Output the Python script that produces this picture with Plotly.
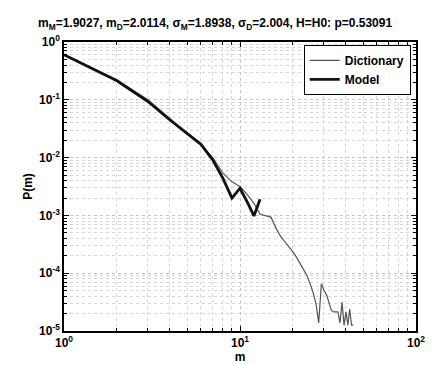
import plotly.graph_objects as go

# Data (m values and log10 P)
model_m = [1, 2, 3, 4, 5, 6, 7, 8, 9, 10, 11, 12, 13]
model_logp = [-0.22, -0.67, -1.03, -1.35, -1.58, -1.77, -2.04, -2.36, -2.70, -2.53, -2.77, -3.01, -2.72]

dict_m = list(range(1, 45))
dict_logp = [-0.22, -0.66, -1.00, -1.33, -1.57, -1.78, -2.00, -2.27, -2.42, -2.50,
             -2.64, -2.79, -2.98, -3.00, -3.03, -3.22, -3.36, -3.46, -3.54, -3.63,
             -3.73, -3.84, -3.92, -4.04, -4.18, -4.33, -4.52, -4.86, -4.18, -4.30,
             -4.37, -4.52, -4.64, -4.67, -4.67, -4.67, -4.86, -4.50, -4.90, -4.67,
             -4.90, -4.62, -4.90, -4.90]

model_p = [10 ** v for v in model_logp]
dict_p = [10 ** v for v in dict_logp]

x_tickvals = [1, 10, 100]
x_ticktext = ["<b>10<sup>0</sup></b>", "<b>10<sup>1</sup></b>", "<b>10<sup>2</sup></b>"]
y_tickvals = [1, 1e-1, 1e-2, 1e-3, 1e-4, 1e-5]
y_ticktext = ["<b>10<sup>0</sup></b>", "<b>10<sup>-1</sup></b>", "<b>10<sup>-2</sup></b>",
              "<b>10<sup>-3</sup></b>", "<b>10<sup>-4</sup></b>", "<b>10<sup>-5</sup></b>"]
minor_digits = [2, 3, 4, 5, 6, 7, 8, 9]
x_minor = [d * 10 ** e for e in range(0, 2) for d in minor_digits]
y_minor = [d * 10.0 ** e for e in range(-5, 0) for d in minor_digits]

title_text = ("<b>m<sub>M</sub>=1.9027, m<sub>D</sub>=2.0114, σ<sub>M</sub>=1.8938, "
              "σ<sub>D</sub>=2.004, H=H0: p=0.53091</b>")

FONT = "Liberation Sans, Arial"

fig = go.Figure()
fig.add_trace(go.Scatter(x=dict_m, y=dict_p, mode="lines", name="<b>Dictionary</b>",
                         line=dict(color="#555555", width=1.2)))
fig.add_trace(go.Scatter(x=model_m, y=model_p, mode="lines", name="<b>Model</b>",
                         line=dict(color="#111111", width=2.8)))

axis_common = dict(
    showline=True, linecolor="black", linewidth=1.5, mirror="allticks",
    ticks="inside", ticklen=5, tickcolor="black",
    showgrid=True, gridcolor="#c4c4c4", griddash="dot", gridwidth=1,
    zeroline=False,
    tickfont=dict(family=FONT, size=12, color="black"),
)

fig.update_xaxes(type="log", range=[0, 2], tickvals=x_tickvals, ticktext=x_ticktext,
                 title=dict(text="<b>m</b>", standoff=2,
                            font=dict(family=FONT, size=12, color="black")),
                 minor=dict(tickmode="array", tickvals=x_minor, showgrid=True,
                            gridcolor="#d6d6d6", griddash="dot",
                            ticks="inside", ticklen=3, tickcolor="black"),
                 **axis_common)
fig.update_yaxes(type="log", range=[-5, 0], tickvals=y_tickvals, ticktext=y_ticktext,
                 title=dict(text="<b>P(m)</b>", standoff=4,
                            font=dict(family=FONT, size=12, color="black")),
                 minor=dict(tickmode="array", tickvals=y_minor, showgrid=True,
                            gridcolor="#d6d6d6", griddash="dot",
                            ticks="inside", ticklen=3, tickcolor="black"),
                 **axis_common)

fig.update_layout(
    width=437, height=365,
    margin=dict(l=56, r=29, t=34, b=39),
    paper_bgcolor="white", plot_bgcolor="white",
    title=dict(text=title_text, x=30 / 437, xanchor="left", y=1 - 15 / 365, yanchor="middle",
               font=dict(family=FONT, size=12, color="black")),
    showlegend=True,
    legend=dict(x=0.985, y=0.99, xanchor="right", yanchor="top",
                bordercolor="black", borderwidth=1, bgcolor="white",
                font=dict(family=FONT, size=12, color="black"),
                tracegroupgap=0, itemwidth=30),
)

fig.write_html("out.html")
